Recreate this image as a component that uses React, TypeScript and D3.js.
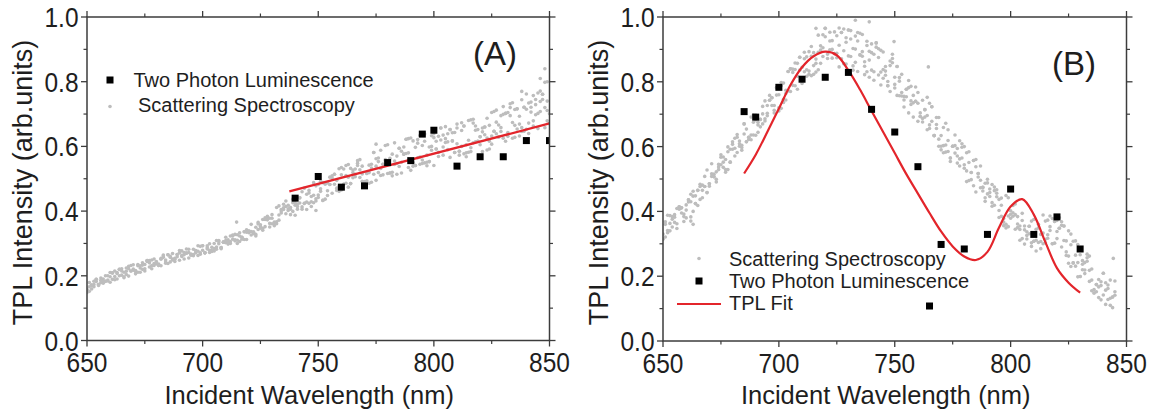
import React from "react";
import * as d3 from "d3";

// ---------- Panel A data ----------
const wlA = [
  650,651,652,653,654,655,656,657,658,659,660,661,662,663,664,665,666,667,668,669,
  670,671,672,673,674,675,676,677,678,679,680,681,682,683,684,685,686,687,688,689,
  690,691,692,693,694,695,696,697,698,699,700,701,702,703,704,705,706,707,708,709,
  710,711,712,713,714,715,716,717,718,719,720,721,722,723,724,725,726,727,728,729,
  730,731,732,733,734,735,736,737,738,739,740,741,742,743,744,745,746,747,748,749,
  750,751,752,753,754,755,756,757,758,759,760,761,762,763,764,765,766,767,768,769,
  770,771,772,773,774,775,776,777,778,779,780,781,782,783,784,785,786,787,788,789,
  790,791,792,793,794,795,796,797,798,799,800,801,802,803,804,805,806,807,808,809,
  810,811,812,813,814,815,816,817,818,819,820,821,822,823,824,825,826,827,828,829,
  830,831,832,833,834,835,836,837,838,839,840,841,842,843,844,845,846,847,848,849,
  850,
];
const scatA1 = [
  .155,.152,.159,.166,.189,.173,.193,.177,.183,.187,
  .210,.189,.198,.210,.220,.222,.211,.214,.199,.215,
  .217,.213,.231,.231,.233,.235,.244,.247,.249,.238,
  .244,.236,.254,.257,.243,.265,.260,.252,.251,.266,
  .271,.260,.265,.283,.255,.264,.262,.278,.293,.291,
  .293,.271,.293,.272,.288,.284,.282,.309,.287,.304,
  .319,.304,.300,.323,.311,.300,.306,.319,.336,.312,
  .333,.337,.330,.350,.365,.353,.374,.352,.373,.362,
  .378,.361,.367,.416,.400,.421,.414,.402,.389,.437,
  .387,.422,.441,.460,.424,.428,.464,.414,.488,.431,
  .450,.461,.488,.484,.487,.482,.509,.483,.464,.461,
  .465,.483,.541,.505,.485,.519,.514,.541,.504,.492,
  .480,.494,.486,.489,.581,.495,.564,.510,.545,.556,
  .516,.518,.520,.611,.547,.594,.518,.576,.622,.535,
  .559,.550,.597,.610,.545,.558,.549,.573,.598,.633,
  .639,.592,.569,.657,.573,.661,.639,.566,.617,.581,
  .608,.573,.649,.663,.605,.582,.682,.684,.614,.616,
  .605,.584,.660,.626,.665,.607,.647,.675,.666,.658,
  .699,.702,.643,.732,.625,.665,.654,.632,.744,.721,
  .715,.672,.721,.663,.698,.702,.771,.761,.798,.740,
  .701,
];
const scatA2 = [
  .148,.166,.172,.173,.182,.170,.179,.190,.183,.184,
  .197,.209,.188,.190,.200,.202,.197,.224,.229,.232,
  .221,.216,.235,.224,.220,.222,.247,.240,.222,.252,
  .237,.232,.231,.264,.239,.238,.257,.249,.254,.266,
  .248,.277,.272,.270,.272,.264,.282,.271,.276,.267,
  .279,.271,.283,.279,.278,.300,.309,.299,.287,.304,
  .309,.311,.323,.326,.328,.310,.333,.319,.336,.342,
  .338,.359,.335,.323,.343,.358,.341,.374,.379,.351,
  .361,.366,.411,.372,.405,.405,.431,.407,.406,.426,
  .418,.414,.441,.413,.424,.452,.424,.429,.426,.438,
  .482,.469,.433,.484,.463,.482,.455,.514,.495,.531,
  .535,.530,.486,.474,.532,.503,.506,.548,.528,.515,
  .480,.516,.542,.545,.581,.539,.553,.532,.512,.603,
  .605,.563,.576,.555,.514,.538,.551,.598,.578,.624,
  .526,.539,.541,.565,.634,.603,.616,.551,.553,.600,
  .541,.592,.582,.657,.635,.612,.590,.652,.642,.643,
  .657,.585,.673,.577,.568,.680,.584,.672,.650,.616,
  .630,.657,.660,.589,.592,.632,.708,.639,.629,.695,
  .625,.616,.631,.720,.735,.714,.716,.693,.658,.647,
  .653,.640,.737,.679,.729,.765,.708,.761,.720,.679,
  .670,
];
const scatA3 = [
  .158,.179,.169,.183,.189,.173,.186,.183,.200,.200,
  .180,.209,.215,.207,.220,.215,.194,.204,.222,.215,
  .234,.206,.211,.211,.240,.215,.247,.227,.232,.232,
  .240,.232,.251,.261,.249,.265,.243,.269,.244,.259,
  .278,.263,.252,.270,.282,.267,.266,.278,.263,.271,
  .293,.271,.287,.299,.275,.277,.289,.305,.284,.304,
  .302,.298,.306,.313,.308,.327,.323,.313,.312,.335,
  .338,.326,.335,.328,.360,.347,.347,.379,.384,.378,
  .389,.355,.361,.388,.394,.410,.392,.418,.411,.399,
  .426,.406,.425,.406,.471,.405,.456,.445,.449,.478,
  .442,.492,.433,.437,.448,.505,.502,.514,.471,.476,
  .512,.483,.510,.544,.485,.527,.530,.556,.559,.539,
  .491,.516,.519,.533,.514,.562,.519,.588,.545,.559,
  .549,.518,.509,.544,.570,.594,.585,.576,.622,.580,
  .626,.617,.541,.621,.567,.547,.638,.540,.553,.588,
  .627,.616,.631,.620,.598,.624,.614,.652,.617,.581,
  .669,.585,.600,.663,.580,.619,.596,.611,.663,.652,
  .630,.645,.636,.687,.616,.705,.647,.712,.629,.646,
  .723,.702,.705,.695,.674,.628,.716,.669,.646,.721,
  .762,.734,.706,.757,.745,.655,.739,.745,.658,.711,
  .670,
];
const scatAExtraWl = [714.7, 749, 775, 848, 846, 849, 838];
const scatAExtraVal = [0.366, 0.402, 0.607, 0.84, 0.81, 0.8, 0.77];
const tplAWl = [740, 750, 760, 770, 780, 790, 795, 800, 810, 820, 830, 840, 850];
const tplAVal = [0.44, 0.507, 0.474, 0.478, 0.55, 0.556, 0.638, 0.65, 0.539, 0.568, 0.568, 0.618, 0.618];
const fitAWl = [737.5, 850];
const fitAVal = [0.461, 0.671];

// ---------- Panel B data ----------
const wlB = [
  650,651,652,653,654,655,656,657,658,659,660,661,662,663,664,665,666,667,668,669,
  670,671,672,673,674,675,676,677,678,679,680,681,682,683,684,685,686,687,688,689,
  690,691,692,693,694,695,696,697,698,699,700,701,702,703,704,705,706,707,708,709,
  710,711,712,713,714,715,716,717,718,719,720,721,722,723,724,725,726,727,728,729,
  730,731,732,733,734,735,736,737,738,739,740,741,742,743,744,745,746,747,748,749,
  750,751,752,753,754,755,756,757,758,759,760,761,762,763,764,765,766,767,768,769,
  770,771,772,773,774,775,776,777,778,779,780,781,782,783,784,785,786,787,788,789,
  790,791,792,793,794,795,796,797,798,799,800,801,802,803,804,805,806,807,808,809,
  810,811,812,813,814,815,816,817,818,819,820,821,822,823,824,825,826,827,828,829,
  830,831,832,833,834,835,836,837,838,839,840,841,842,843,844,845,
];
const scatB1 = [
  .315,.368,.341,.363,.384,.390,.362,.414,.411,.392,
  .404,.436,.383,.447,.424,.465,.437,.481,.477,.458,
  .485,.516,.507,.522,.529,.567,.568,.560,.599,.592,
  .607,.595,.582,.609,.597,.639,.615,.629,.636,.675,
  .682,.667,.661,.701,.686,.695,.743,.751,.704,.759,
  .720,.718,.736,.774,.832,.840,.829,.838,.817,.836,
  .845,.831,.837,.823,.909,.823,.870,.944,.898,.945,
  .965,.886,.926,.900,.954,.942,.846,.952,.963,.922,
  .960,.932,.836,.860,.926,.883,.946,.822,.831,.814,
  .917,.805,.920,.821,.830,.811,.833,.788,.850,.872,
  .814,.847,.757,.823,.755,.754,.804,.741,.691,.740,
  .767,.704,.687,.714,.652,.667,.723,.634,.668,.690,
  .590,.581,.605,.585,.554,.601,.580,.549,.562,.565,
  .533,.581,.551,.498,.479,.538,.517,.473,.474,.442,
  .488,.446,.427,.475,.467,.437,.441,.356,.349,.386,
  .379,.396,.345,.384,.355,.316,.355,.315,.331,.292,
  .375,.278,.349,.329,.333,.370,.317,.386,.300,.302,
  .316,.381,.357,.355,.275,.262,.297,.241,.265,.298,
  .199,.248,.242,.268,.262,.222,.159,.174,.167,.171,
  .142,.180,.128,.188,.136,.141,
];
const scatB2 = [
  .315,.360,.334,.340,.352,.382,.409,.414,.411,.384,
  .420,.436,.430,.400,.448,.418,.477,.465,.477,.528,
  .485,.547,.515,.499,.537,.544,.536,.521,.584,.552,
  .592,.571,.637,.617,.589,.670,.615,.622,.621,.698,
  .697,.644,.684,.670,.679,.727,.743,.751,.727,.782,
  .760,.788,.746,.764,.772,.770,.789,.858,.777,.876,
  .795,.871,.877,.893,.819,.850,.830,.891,.911,.905,
  .939,.872,.899,.927,.887,.874,.913,.952,.856,.855,
  .880,.878,.849,.941,.952,.950,.893,.862,.925,.867,
  .836,.831,.920,.875,.790,.892,.820,.788,.770,.885,
  .781,.758,.802,.756,.722,.777,.704,.786,.758,.740,
  .734,.693,.743,.691,.696,.656,.678,.634,.656,.623,
  .601,.659,.672,.619,.565,.601,.603,.594,.618,.609,
  .600,.525,.584,.520,.557,.560,.517,.540,.474,.431,
  .454,.469,.416,.464,.456,.381,.385,.378,.449,.353,
  .402,.385,.423,.361,.344,.372,.343,.326,.354,.303,
  .308,.345,.304,.307,.300,.314,.373,.353,.300,.369,
  .338,.348,.290,.355,.309,.340,.330,.308,.231,.198,
  .266,.220,.208,.257,.218,.188,.148,.174,.190,.183,
  .209,.157,.162,.132,.103,.185,
];
const scatB3 = [
  .330,.321,.388,.387,.376,.366,.347,.407,.395,.369,
  .380,.429,.453,.462,.424,.465,.484,.442,.508,.458,
  .478,.508,.507,.491,.545,.575,.552,.529,.529,.552,
  .615,.626,.629,.601,.604,.670,.654,.629,.691,.636,
  .635,.675,.684,.724,.741,.703,.758,.727,.712,.782,
  .710,.798,.796,.744,.832,.840,.839,.788,.857,.876,
  .805,.891,.817,.833,.879,.890,.857,.837,.857,.878,
  .965,.886,.953,.873,.887,.888,.966,.871,.896,.936,
  .960,.958,.903,.901,.832,.883,.879,.848,.912,.894,
  .890,.885,.907,.902,.897,.838,.847,.801,.864,.859,
  .792,.847,.813,.767,.744,.777,.782,.730,.735,.784,
  .678,.693,.676,.714,.752,.734,.723,.634,.690,.601,
  .634,.603,.583,.652,.565,.601,.636,.571,.540,.598,
  .544,.492,.495,.520,.557,.460,.506,.496,.463,.487,
  .499,.458,.483,.419,.445,.403,.419,.367,.360,.442,
  .391,.418,.390,.350,.311,.394,.299,.337,.354,.370,
  .308,.311,.360,.285,.389,.303,.328,.341,.378,.369,
  .372,.348,.368,.310,.264,.240,.230,.241,.309,.242,
  .199,.237,.219,.246,.184,.155,.148,.152,.134,.127,
  .209,.113,.173,.110,.136,.152,
];
const scatBExtraWl = [716, 739, 749.7, 764.5, 844.3, 733, 662, 663];
const scatBExtraVal = [0.965, 0.985, 0.924, 0.846, 0.255, 0.99, 0.37, 0.36];
const tplBWl = [685, 690, 700, 710, 720, 730, 740, 750, 760, 765, 770, 780, 790, 800, 810, 820, 830];
const tplBVal = [0.708, 0.691, 0.783, 0.808, 0.814, 0.829, 0.715, 0.645, 0.538, 0.108, 0.298, 0.284, 0.329, 0.469, 0.329, 0.383, 0.284];
const fitBWl = [685, 690, 695, 700, 705, 710, 715, 720, 725, 730, 735, 740, 745, 750, 755, 760, 765, 770, 775, 780, 785, 790, 795, 800, 805, 810, 815, 820, 825, 830];
const fitBVal = [0.517, 0.575, 0.645, 0.717, 0.79, 0.845, 0.879, 0.893, 0.882, 0.835, 0.776, 0.71, 0.645, 0.58, 0.515, 0.455, 0.395, 0.338, 0.292, 0.261, 0.25, 0.275, 0.35, 0.415, 0.438, 0.39, 0.305, 0.225, 0.18, 0.149];

// ---------- axes ----------
const xTicks = [650, 700, 750, 800, 850];
const xMinorTicks = [675, 725, 775, 825];
const yTicks = [0.0, 0.2, 0.4, 0.6, 0.8, 1.0];
const yMinorTicks = [0.1, 0.3, 0.5, 0.7, 0.9];
const xTitle = "Incident Wavelength (nm)";
const yTitle = "TPL Intensity (arb.units)";
const legendTPL = "Two Photon Luminescence";
const legendScat = "Scattering Spectroscopy";
const legendFit = "TPL Fit";

const FONT = "'Liberation Sans', Arial, Helvetica, sans-serif";
const GRAY = "#bdbdbd";
const RED = "#e3252b";
const AXIS = "#3c3c3c";
const TEXT = "#1e1e1e";

type PanelProps = {
  left: number;
  right: number;
  top: number;
  bottom: number;
  label: string;
  labelX: number;
  labelY: number;
  scatWl: number[];
  scatYs: number[][];
  extraWl: number[];
  extraVal: number[];
  tplWl: number[];
  tplVal: number[];
  fitWl: number[];
  fitVal: number[];
  smooth: boolean;
  legend: React.ReactNode;
};

function Panel(p: PanelProps) {
  const x = d3.scaleLinear().domain([650, 850]).range([p.left, p.right]);
  const y = d3.scaleLinear().domain([0, 1]).range([p.bottom, p.top]);
  const fitPts: [number, number][] = p.fitWl.map((w, i) => [w, p.fitVal[i]]);
  const line = d3
    .line<[number, number]>()
    .x((d) => x(d[0]))
    .y((d) => y(d[1]))
    .curve(p.smooth ? d3.curveCatmullRom.alpha(0.5) : d3.curveLinear);
  const clipId = "clip-" + p.label.replace(/[()]/g, "");
  const maj = 6;
  const mnr = 3.5;
  const sq = 7;
  const cx = (p.left + p.right) / 2;
  return (
    <g>
      <defs>
        <clipPath id={clipId}>
          <rect x={p.left} y={p.top} width={p.right - p.left} height={p.bottom - p.top} />
        </clipPath>
      </defs>
      <g clipPath={`url(#${clipId})`}>
        {p.scatYs.map((arr, k) =>
          arr.map((v, i) => (
            <circle key={`s${k}-${i}`} cx={x(p.scatWl[i])} cy={y(v)} r={1.8} fill={GRAY} />
          ))
        )}
        {p.extraWl.map((w, i) => (
          <circle key={`e${i}`} cx={x(w)} cy={y(p.extraVal[i])} r={1.8} fill={GRAY} />
        ))}
        <path d={line(fitPts) || ""} fill="none" stroke={RED} strokeWidth={2.2} />
        {p.tplWl.map((w, i) => (
          <rect key={`t${i}`} x={x(w) - sq / 2} y={y(p.tplVal[i]) - sq / 2} width={sq} height={sq} fill="#000" />
        ))}
      </g>
      <rect x={p.left} y={p.top} width={p.right - p.left} height={p.bottom - p.top} fill="none" stroke={AXIS} strokeWidth={1.5} />
      {xTicks.map((t) => (
        <g key={`xt${t}`}>
          <line x1={x(t)} x2={x(t)} y1={p.bottom} y2={p.bottom + maj} stroke={AXIS} strokeWidth={1.3} />
          <line x1={x(t)} x2={x(t)} y1={p.top} y2={p.top - maj} stroke={AXIS} strokeWidth={1.3} />
          <text
            transform={`translate(${x(t)},${p.bottom + 31.5}) scale(1,1.15)`}
            textAnchor="middle"
            fontFamily={FONT}
            fontSize={24.5}
            fill={TEXT}
          >
            {t}
          </text>
        </g>
      ))}
      {xMinorTicks.map((t) => (
        <g key={`xm${t}`}>
          <line x1={x(t)} x2={x(t)} y1={p.bottom} y2={p.bottom + mnr} stroke={AXIS} strokeWidth={1.2} />
          <line x1={x(t)} x2={x(t)} y1={p.top} y2={p.top - mnr} stroke={AXIS} strokeWidth={1.2} />
        </g>
      ))}
      {yTicks.map((t) => (
        <g key={`yt${t}`}>
          <line x1={p.left} x2={p.left - maj} y1={y(t)} y2={y(t)} stroke={AXIS} strokeWidth={1.3} />
          <line x1={p.right} x2={p.right + maj} y1={y(t)} y2={y(t)} stroke={AXIS} strokeWidth={1.3} />
          <text
            transform={`translate(${p.left - 8.5},${y(t) + 10}) scale(1,1.15)`}
            textAnchor="end"
            fontFamily={FONT}
            fontSize={24.5}
            fill={TEXT}
          >
            {d3.format(".1f")(t)}
          </text>
        </g>
      ))}
      {yMinorTicks.map((t) => (
        <g key={`ym${t}`}>
          <line x1={p.left} x2={p.left - mnr} y1={y(t)} y2={y(t)} stroke={AXIS} strokeWidth={1.2} />
          <line x1={p.right} x2={p.right + mnr} y1={y(t)} y2={y(t)} stroke={AXIS} strokeWidth={1.2} />
        </g>
      ))}
      <text x={cx - 9} y={404} textAnchor="middle" fontFamily={FONT} fontSize={25.5} fill={TEXT}>
        {xTitle}
      </text>
      <text
        transform={`translate(${p.left - 55.5},182.5) rotate(-90)`}
        textAnchor="middle"
        fontFamily={FONT}
        fontSize={27}
        fill={TEXT}
      >
        {yTitle}
      </text>
      <text x={p.labelX} y={p.labelY} fontFamily={FONT} fontSize={33} fill={TEXT}>
        {p.label}
      </text>
      {p.legend}
    </g>
  );
}

const legendFont = { fontFamily: FONT, fontSize: 20, fill: TEXT } as const;

export default function App() {
  const legendA = (
    <g>
      <rect x={110 - 3.5} y={80 - 3.5} width={7} height={7} fill="#000" />
      <text x={133.5} y={86.5} {...legendFont}>{legendTPL}</text>
      <circle cx={110} cy={106.5} r={1.8} fill={GRAY} />
      <text x={138} y={112} {...legendFont}>{legendScat}</text>
    </g>
  );
  const legendB = (
    <g>
      <circle cx={699} cy={258.5} r={1.8} fill={GRAY} />
      <text x={729} y={266} {...legendFont}>{legendScat}</text>
      <rect x={699 - 3.5} y={281 - 3.5} width={7} height={7} fill="#000" />
      <text x={729} y={288} {...legendFont}>{legendTPL}</text>
      <line x1={677} x2={721} y1={304} y2={304} stroke={RED} strokeWidth={2.2} />
      <text x={729} y={310} {...legendFont}>{legendFit}</text>
    </g>
  );
  return (
    <svg width={1154} height={414} style={{ position: "absolute", left: 0, top: 0, background: "#fff" }}>
      <rect width={1154} height={414} fill="#fff" />
      <Panel
        left={87}
        right={549.5}
        top={17}
        bottom={340.5}
        label="(A)"
        labelX={473}
        labelY={65}
        scatWl={wlA}
        scatYs={[scatA1, scatA2, scatA3]}
        extraWl={scatAExtraWl}
        extraVal={scatAExtraVal}
        tplWl={tplAWl}
        tplVal={tplAVal}
        fitWl={fitAWl}
        fitVal={fitAVal}
        smooth={false}
        legend={legendA}
      />
      <Panel
        left={663}
        right={1126.5}
        top={17}
        bottom={341}
        label="(B)"
        labelX={1052}
        labelY={75}
        scatWl={wlB}
        scatYs={[scatB1, scatB2, scatB3]}
        extraWl={scatBExtraWl}
        extraVal={scatBExtraVal}
        tplWl={tplBWl}
        tplVal={tplBVal}
        fitWl={fitBWl}
        fitVal={fitBVal}
        smooth={true}
        legend={legendB}
      />
    </svg>
  );
}
